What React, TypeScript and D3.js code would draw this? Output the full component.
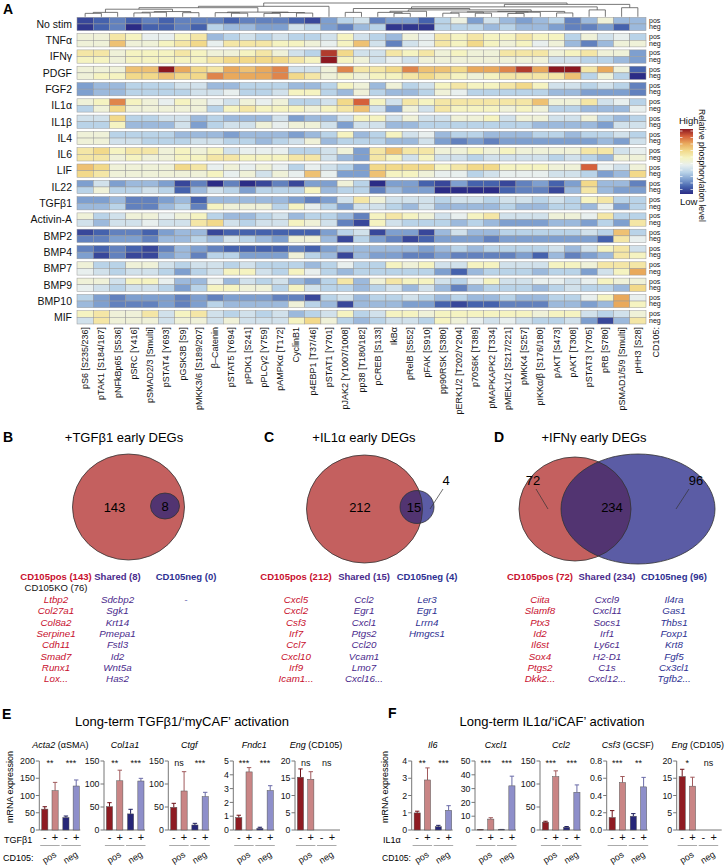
import React from "react";
import * as d3 from "d3";

const FONT = "'Liberation Sans', Arial, Helvetica, sans-serif";

// ---------- Panel A data ----------
const phosphoSites = ["pS6 [S235/236]","pTAK1 [S184/187]","pNFkBp65 [S536]","pSRC [Y416]","pSMAD2/3 [Smulti]","pSTAT4 [Y693]","pGSK3B [S9]","pMKK3/6 [S189/207]","β–Catenin","pSTAT5 [Y694]","pPDK1 [S241]","pPLCγ2 [Y759]","pAMPKα [T172]","CyclinB1","p4EBP1 [T37/46]","pSTAT1 [Y701]","pJAK2 [Y1007/1008]","pp38 [T180/182]","pCREB [S133]","IkBα","pRelB [S552]","pFAK [S910]","pp90RSK [S380]","pERK1/2 [T202/Y204]","p70S6K [T389]","pMAPKAPK2 [T334]","pMEK1/2 [S217/221]","pMKK4 [S257]","pIKKα/β [S176/180]","pAKT [S473]","pAKT [T308]","pSTAT3 [Y705]","pRB [S780]","pSMAD1/5/9 [Smulti]","pHH3 [S28]"];

const stimuli = ["No stim","TNFα","IFNγ","PDGF","FGF2","IL1α","IL1β","IL4","IL6","LIF","IL22","TGFβ1","Activin-A","BMP2","BMP4","BMP7","BMP9","BMP10","MIF"];

const noStimPos = [-3.5,-3,-2.5,-3,-2.5,-3,-2.5,-2.5,-2.5,-3,-2.5,-2.5,-2.5,-3,-3.5,-2,-1,-0.5,-2.5,-2,-2,-3,-1,0.3,-2,-0.5,-1.5,-2,-1.5,-1,-2.5,-1.5,0.5,-1.5,-1.5];
const noStimNeg = [-3.8,-3,-2.5,-4,-3,-3,-2.5,-3,-1,-1.5,-1.5,-2,-2,-0.5,-1,-2,-2.5,-1.5,-1,-3.8,-3.8,-3.8,-1,-1,-1,-1.5,-1,-1.5,-1.5,-2,-2.5,-2.5,-2,-3,-1.5];
const tnfPos = [0.5,0.5,1.5,1,0,0,1,1.5,-1.5,-1,-0.5,-1,-0.5,-1,-1,-0.5,1,-0.5,-1,-1.5,0.5,0,1.5,1,1.5,1,1,1.5,1,1,-1,0.5,-0.5,0,-1];
const tnfNeg = [0.5,0.5,2.5,0.5,0.5,1,1.5,2,0,1.5,1.5,1.5,1,1,0.5,0,1,2.5,-0.5,-2.5,-0.5,0,1.5,1,2,1,0.5,1,0,0.5,-1.5,-2.5,-1.5,0.5,0.5];
const ifnPos = [1.5,1.5,0.5,1,1,1,1.5,1,0.5,0.5,1,1.5,0.5,-0.5,-1,4.5,2,-0.5,-0.5,1.5,1,1.5,0.5,1,0.5,0.5,1.5,1.5,1.5,0.5,1,1.5,0.5,0.5,-2];
const ifnNeg = [1,1,0.5,1,1,1,1,1,1.5,2,2,2,2,1.5,1,5,1,0.5,-0.5,0,-0.5,0.5,0.5,0.5,0.5,0.5,0.5,0.5,0.5,-0.5,-0.5,-1,-1,-1.5,-2];
const pdgfPos = [0.5,0.5,0.5,2.5,2.5,5,3,2,1.5,3,2.5,3,3.5,-0.5,-0.5,0.5,3.5,1.5,1.5,2,3.5,2.5,2.5,2,3,3,3.5,4.5,3,5,5,1.5,3,0.5,-3];
const pdgfNeg = [0.5,1,1,2,2,2.5,2,2,3.5,3,3,3,3.5,2,1.5,0.5,1,0.5,1,1,1.5,2,1.5,1,0.5,1,1.5,1.5,1.5,1.5,2.5,-1,0.5,-1,-4];
const fgf2Pos = [-2,-1.5,-1.5,-1,-1,-1,-0.5,-0.5,-1.5,-1.5,-1,-1,-1,-1.5,-1.5,-1,1,0.5,-1.5,0.5,-1,-0.5,1,1.5,1,1,1.5,2,1,-0.5,-0.5,-1,-0.5,-1,-2.5];
const fgf2Neg = [-2,-1.5,-1.5,-1,-1,-1,-1,-0.5,-0.5,0,-1,-1,-0.5,1,1,-1,-1.5,0.5,-1,-1.5,-1.5,-1,0.5,0,-1,-1,-1,-1,-1,-1.5,-1.5,-2,-2,-2,-2.5];
const il1aPos = [0.5,1,3.5,1,0.5,0,1,0.5,0,-0.5,0.5,0,0.5,-1,-1,-0.5,2,4,1,-0.5,1.5,1,1.5,1.5,1.5,1.5,1.5,1.5,2.5,0.5,0.5,1.5,-0.5,0,-1];
const il1aNeg = [-1,0.5,2,0.5,0.5,0.5,0.5,0.5,-1,1,1.5,1,1,1,0.5,1,1.5,2.5,-0.5,-2,0.5,-0.5,1.5,1,1,1,0.5,1,0.5,-1,-1,-1.5,-1.5,-1.5,0];
const il1bPos = [-0.5,-0.5,2,-1,-1,-0.5,-0.5,-1.5,-1,-1.5,-1.5,-1.5,-0.5,-2,-1.5,-1.5,-0.5,1,1,-0.5,0.5,-0.5,-0.5,0.5,0.5,1,-0.5,0.5,0.5,-0.5,-0.5,0.5,-1,-1.5,-1];
const il1bNeg = [-1,-1,1,-1.5,-1.5,-1.5,-0.5,-2,-1,-0.5,-0.5,0.5,0,0.5,0.5,-0.5,-2,-0.5,-0.5,-1.5,-1.5,-1,-1,-1,-1,-1,-1,-1,-1.5,-1.5,-1.5,-1.5,-2,-0.5,-0.5];
const il4Pos = [0.5,0.5,-1,-1,-1,-1,-1.5,-1.5,-1.5,-2,-1.5,-1.5,-1.5,-2,-1.5,-1,1,-1.5,-1,1,-0.5,0,-1.5,-1,-1,-1.5,-1.5,-1.5,-1,-1,-1.5,-1,-1,-0.5,-1];
const il4Neg = [0.5,0.5,-0.5,-0.5,-1,-1,-1,-0.5,-0.5,-1,-1,-1.5,-1,-0.5,0.5,-1.5,-1,-1,-1,-1.5,-1.5,-0.5,-2,-2.5,-2,-2.5,-2,-2,-2,-2,-2,-2,-1.5,-2,-0.5];
const il6Pos = [1.5,2,1,1.5,1.5,0.5,1,0.5,1,-0.5,0,0,0,-1,-1,-0.5,0.5,-2,1.5,2.5,1.5,1.5,0.5,0.5,1,0.5,1,0.5,0.5,0.5,0.5,1.5,1.5,-0.5,0];
const il6Neg = [1.5,1.5,0.5,1,0.5,0.5,1,1,1.5,1.5,1,1,1,1.5,1.5,-0.5,-1.5,-2,1.5,1,-0.5,1,-0.5,-0.5,-1,-0.5,-0.5,-0.5,-0.5,-1,-0.5,-1,-1.5,0.5,0.5];
const lifPos = [2.5,2,0.5,0.5,0.5,0.5,2,1.5,0,0.5,0,0.5,0,-1,0,-0.5,-1,-2,2,2,2,2,1,1.5,2,2,1,1,1,0.5,0.5,4,0,-0.5,0.5];
const lifNeg = [2,1.5,0.5,0.5,0.5,0.5,0.5,0.5,1,0,0.5,-0.5,0.5,0,2.5,0,-2,-2,2.5,1,1,0.5,0,0,-1,-0.5,0,0,0,-0.5,-0.5,-1,-2,-1.5,2];
const il22Pos = [-2,-0.5,-2,-1.5,-1.5,-2,-3.5,-2.5,-4,-2.5,-4,-3.5,-2.5,-3.5,-2,-2,0.5,-1,-4,-2,-2,-3,-3.5,-2,-3,-3,-3.5,-2.5,-2,-3,-2,2,-1.5,-1.5,-2.5];
const il22Neg = [-1,0.5,-1,-1,-0.5,-1,-3,-1.5,-0.5,-1,-2,-1,-1,-1,1,-1.5,-1,-1,-2.5,-1.5,-2,-2,-4,-4,-4,-4,-3,-2.5,-2.5,-3.5,-1.5,1.5,-1.5,-2,-2];
const tgfPos = [-2,-2,-1.5,-2.5,-2.5,-2,-1.5,-3,-1.5,-1.5,-1.5,-1.5,-1.5,-2,-2.5,-2,-0.5,1.5,0.5,-0.5,-0.5,-0.5,-1,-0.5,-0.5,-1,-0.5,-0.5,-1,-0.5,-1,1,1.5,-1,-1];
const tgfNeg = [-1.5,-1.5,-1,-2.5,-2.5,-1.5,-1,-2.5,1,0.5,0.5,0.5,-1,1,0,-1,-2,-0.5,-0.5,-1,-1.5,-0.5,-1.5,-1.5,-1.5,-1.5,-1,-1.5,-1.5,-1,-1,-1.5,0,-2,-1];
const actPos = [0.5,-1,-0.5,0.5,0.5,0,0.5,1,-1,-1.5,-1.5,-1,-0.5,-1.5,-1,-1,-1.5,-2.5,1,1.5,1,0.5,-0.5,0,1,1.5,-0.5,-0.5,-0.5,0.5,0.5,0,1.5,-1,-1];
const actNeg = [-0.5,-1.5,-0.5,-0.5,0,-0.5,-0.5,1.5,2,-0.5,-1,-0.5,-0.5,1,0.5,-0.5,-2.5,-3.5,1,-0.5,-1,-1,-1,-1.5,-1,-1.5,-2,-2,-2,-1.5,-1.5,-2,-1,-2,1.5];
const bmp2Pos = [-3.5,-3,-2.5,-2.5,-3,-2,-1.5,-1.5,-3.5,-3,-3,-3,-3,-3,-3,-2,-1,-0.5,-3.5,-2,-2,-3.5,-1.5,-0.5,-1.5,-1.5,-1,-1,-1,-1,-1,-0.5,-1,2.5,-1];
const bmp2Neg = [-2.5,-2.5,-2,-2,-2.5,-1.5,-1.5,-1,-1.5,-0.5,-1,-1.5,-2,0.5,0.5,-1.5,-3.5,-1,-2,-2.5,-3.5,-3,-2,-2,-2,-2.5,-2,-2,-2,-2,-2,-2,-3,1.5,0];
const bmp4Pos = [-2.5,-3,-2.5,-3,-3.5,-2.5,-1.5,-2,-2.5,-3,-3,-3,-3,-2.5,-3,-2,-1.5,-1.5,-1.5,-1.5,-1.5,-2,-1.5,-1,-1.5,-1,-1,-1,-1,-0.5,-1.5,-0.5,1,1.5,-0.5];
const bmp4Neg = [-2,-3.5,-2.5,-3.5,-3.5,-2,-1.5,-2.5,-1,-1,-2,-2,-2,0.5,-1,-1.5,-3.5,-1.5,-2,-2,-2.5,-2.5,-2,-2.5,-2.5,-2.5,-2.5,-2,-3,-1.5,-2.5,-2,-1.5,1.5,1];
const bmp7Pos = [0.5,-1,-1,0.5,0.5,-0.5,-1,-0.5,-0.5,-1,-0.5,-1,-1,-1,-1.5,-1,0,-1,-1,1,0.5,1,-0.5,-0.5,1,1,-0.5,-0.5,-0.5,1,1,0.5,1.5,1.5,1.5];
const bmp7Neg = [0,-0.5,-1,-0.5,-0.5,-1,-2,-1,-0.5,1,1,-0.5,-1,1,0,-1,-1.5,-1,-1,-1,-1,-1,-2,-3,-1.5,-1,-1,-1,-1.5,-1,-1,-2,-0.5,1,3];
const bmp9Pos = [0.5,0.5,-0.5,1,1,0,-1.5,-1.5,0,-1.5,-0.5,-1,-0.5,-1.5,-2,-1,1.5,-1.5,0.5,1.5,1,1,-0.5,-1,0,1,-0.5,-0.5,0,0,-0.5,0,1,0.5,0.5];
const bmp9Neg = [0,-0.5,-1,-0.5,-0.5,-1,-2,-1,1,1,0.5,0.5,-1,1,-0.5,-1,-1,-1.5,-1,-0.5,-1.5,-0.5,-1.5,-2.5,-1.5,-1,-1,-1,-1.5,-1,-0.5,-1,-1,-1.5,2];
const bmp10Pos = [-1,-2,-2.5,-2,-2,-2,-2.5,-2,-2.5,-2,-2,-2,-2.5,-2.5,-3.5,-1,-0.5,-1.5,-1,-1,-0.5,-1,-1.5,-1,-1.5,-1.5,-1,-1.5,-1.5,-1,-1,0,1,3,0];
const bmp10Neg = [-1.5,-2,-2.5,-2.5,-2.5,-2,-2.5,-2,-1,-1.5,-1.5,-1.5,-1.5,0.5,-1,-1.5,-3.5,-1.5,-1.5,-1.5,-2,-2,-3,-3.5,-3,-3,-2.5,-2.5,-2.5,-1.5,-1.5,-2,-1.5,3,1];
const mifPos = [1,1.5,0.5,0.5,1.5,-0.5,1,1.5,-0.5,-1,-0.5,-1,-0.5,-1.5,-1,-0.5,1,-1,-0.5,1,1,0.5,1,1,1,1,1,1,0.5,1,1,-0.5,-1,-0.5,0.5];
const mifNeg = [-0.5,1.5,0.5,0.5,0.5,-0.5,0.5,0.5,-0.5,0.5,-0.5,-0.5,-0.5,1,2,0.5,-1,-1.5,-1,-0.5,-0.5,-1,1,0.5,0,-0.5,0,-0.5,-1,-1,-0.5,-2,-3.5,-1.5,1.5];

const heatPos = [noStimPos,tnfPos,ifnPos,pdgfPos,fgf2Pos,il1aPos,il1bPos,il4Pos,il6Pos,lifPos,il22Pos,tgfPos,actPos,bmp2Pos,bmp4Pos,bmp7Pos,bmp9Pos,bmp10Pos,mifPos];
const heatNeg = [noStimNeg,tnfNeg,ifnNeg,pdgfNeg,fgf2Neg,il1aNeg,il1bNeg,il4Neg,il6Neg,lifNeg,il22Neg,tgfNeg,actNeg,bmp2Neg,bmp4Neg,bmp7Neg,bmp9Neg,bmp10Neg,mifNeg];

const colorDomain = [-4,-3,-2,-1,0,1,2,3,4,5];
const colorRange = ["#2b2c86","#4562ad","#7e9fcf","#b9d3e8","#e8efee","#f5f3c1","#f2d98a","#e9a95c","#d5603a","#8c1820"];

// dendrogram: [left, right, mergeHeight], leaves are column indices
type DNode = number | [DNode, DNode, number];
const dendA: DNode = [[[0,1,2.5],2,3.2],[[[3,4,2.8],5,3.3],[6,7,3],3.8],5.5];
const dendB: DNode = [[8,[9,10,2.6],3.0],[[11,12,2.5],[13,14,2.7],3.1],3.4];
const dendR1: DNode = [[18,[19,20,2.5],3.2],21,4.0];
const dendR2: DNode = [[[22,23,2.6],[24,25,2.6],3.4],[[26,27,2.4],28,3.3],3.6];
const dendLeft: DNode = [[dendA,dendB,6.6],15,7.6];
const dendMid: DNode = [[[16,17,3.2],[dendR1,[dendR2,[29,30,2.8],3.9],5.0],6.0],[31,32,5.0],7.2];
const dendTree: DNode = [dendLeft,[dendMid,[33,34,6.6],9.0],10];

// ---------- Panels B-D data ----------
const vennTitles = ["+TGFβ1 early DEGs","+IL1α early DEGs","+IFNγ early DEGs"];
const bHeaders = ["CD105pos (143)","Shared (8)","CD105neg (0)"];
const cHeaders = ["CD105pos (212)","Shared (15)","CD105neg (4)"];
const dHeaders = ["CD105pos (72)","Shared (234)","CD105neg (96)"];
const bGenesPos = ["Ltbp2","Col27a1","Col8a2","Serpine1","Cdh11","Smad7","Runx1","Lox..."];
const bGenesShared = ["Sdcbp2","Sgk1","Krt14","Pmepa1","Fstl3","Id2","Wnt5a","Has2"];
const bGenesNeg = ["-"];
const cGenesPos = ["Cxcl5","Cxcl2","Csf3","Irf7","Ccl7","Cxcl10","Irf9","Icam1..."];
const cGenesShared = ["Ccl2","Egr1","Cxcl1","Ptgs2","Ccl20","Vcam1","Lmo7","Cxcl16..."];
const cGenesNeg = ["Ler3","Egr1","Lrrn4","Hmgcs1"];
const dGenesPos = ["Ciita","Slamf8","Ptx3","Id2","Il6st","Sox4","Ptgs2","Dkk2..."];
const dGenesShared = ["Cxcl9","Cxcl11","Socs1","Irf1","Ly6c1","H2-D1","C1s","Cxcl12..."];
const dGenesNeg = ["Il4ra","Gas1","Thbs1","Foxp1","Krt8","Fgf5","Cx3cl1","Tgfb2..."];
const vennCounts = [[143, 8, 0], [212, 15, 4], [72, 234, 96]];

// ---------- Panels E-F data ----------
const groups = ["pos", "neg"];
const treatments = ["-", "+"];
const acta2 = [60.5, 114, 36, 127.5];  const acta2Sem = [7, 24, 4.5, 17.5];
const col1a1 = [50.7, 107, 35, 106.5]; const col1a1Sem = [8.7, 23, 10, 5.8];
const ctgf = [49.3, 84.8, 10.9, 72.5]; const ctgfSem = [8.7, 42, 3.6, 9.4];
const fndc1 = [0.9, 4.21, 0.12, 2.86]; const fndc1Sem = [0.17, 0.31, 0.08, 0.35];
const engE = [15.3, 14.7, 0, 0];       const engESem = [2.4, 2.2, 0, 0];
const il6 = [0.99, 2.9, 0.19, 1.14];   const il6Sem = [0.1, 0.7, 0.08, 0.27];
const cxcl1 = [0.2, 7.9, 0.3, 32];     const cxcl1Sem = [0.1, 1.0, 0.1, 7];
const ccl2 = [17, 116, 6, 82];         const ccl2Sem = [2, 12.6, 1.5, 16];
const csf3 = [0.145, 0.55, 0.16, 0.5]; const csf3Sem = [0.08, 0.07, 0.03, 0.11];
const engF = [15.5, 12.7, 0, 0];       const engFSem = [2.1, 2.6, 0, 0];

const barColors = ["#8e1b22", "#c98585", "#262678", "#8e8fca"];
const errColors = ["#6e1218", "#a05a5c", "#1c1c5c", "#6a6ba8"];

function layoutDendro(node: DNode, xOf: (i: number) => number, yOf: (d: number) => number, segs: number[][]): { x: number; y: number } {
  if (typeof node === "number") return { x: xOf(node), y: yOf(0) };
  const l = layoutDendro(node[0], xOf, yOf, segs);
  const r = layoutDendro(node[1], xOf, yOf, segs);
  const y = yOf(node[2]);
  segs.push([l.x, l.y, l.x, y], [r.x, r.y, r.x, y], [l.x, y, r.x, y]);
  return { x: (l.x + r.x) / 2, y };
}

function MiniBar(props: { ax: number; yMax: number; ticks: number[]; fmt?: (v: number) => string; means: number[]; sems: number[]; sig: string[]; gene: string; suffix: string; ext?: number }) {
  const { ax, yMax, ticks, means, sems, sig, gene, suffix } = props;
  const fmt = props.fmt || ((v: number) => String(v));
  const y = d3.scaleLinear().domain([0, yMax]).range([830, 761]);
  const gx = d3.scaleBand<string>().domain(groups).range([ax + 2.4, ax + 40]).paddingInner(0.22);
  const tx = d3.scaleBand<string>().domain(treatments).range([0, gx.bandwidth()]).paddingInner(0.4);
  const bars: any[] = [];
  groups.forEach((g, gi) => {
    treatments.forEach((t, ti) => {
      const k = gi * 2 + ti;
      const bx = (gx(g) as number) + (tx(t) as number);
      const bw = tx.bandwidth();
      const m = means[k];
      const top = y(m);
      if (m > 0) {
        const et = y(m + sems[k]);
        bars.push(
          <g key={k}>
            <line x1={bx + bw / 2} x2={bx + bw / 2} y1={top} y2={et} stroke={errColors[k]} strokeWidth={1} />
            <line x1={bx + bw / 2 - 2.2} x2={bx + bw / 2 + 2.2} y1={et} y2={et} stroke={errColors[k]} strokeWidth={1} />
            <rect x={bx} y={top} width={bw} height={830 - top} fill={barColors[k]} stroke="#555" strokeWidth={0.5} />
          </g>
        );
      }
      bars.push(
        <text key={"t" + k} x={bx + bw / 2} y={841} fontSize={11} textAnchor="middle" fill="#111">{t}</text>
      );
    });
  });
  return (
    <g fontFamily={FONT}>
      <text x={ax + 21} y={748} fontSize={9} textAnchor="middle"><tspan fontStyle="italic">{gene}</tspan>{suffix}</text>
      <line x1={ax} x2={ax} y1={y(yMax)} y2={830} stroke="#777" strokeWidth={1} />
      <line x1={ax} x2={ax + (props.ext || 41)} y1={830} y2={830} stroke="#777" strokeWidth={1} />
      {ticks.map((t) => (
        <g key={t}>
          <line x1={ax - 3.5} x2={ax} y1={y(t)} y2={y(t)} stroke="#777" strokeWidth={1} />
          <text x={ax - 4.5} y={y(t) + 3.2} fontSize={8.8} textAnchor="end" fill="#111">{fmt(t)}</text>
        </g>
      ))}
      {bars}
      {groups.map((g, gi) => {
        const gc = (gx(g) as number) + gx.bandwidth() / 2;
        return (
          <g key={g}>
            <text x={gc} y={766} fontSize={9} textAnchor="middle" fill="#111">{sig[gi]}</text>
            <line x1={(gx(g) as number) - 1.5} x2={(gx(g) as number) + gx.bandwidth() + 1.5} y1={845.5} y2={845.5} stroke="#aaa" strokeWidth={1} />
            <text transform={`translate(${gc + 1},${860}) rotate(-32)`} fontSize={9} textAnchor="middle" fill="#111">{g}</text>
          </g>
        );
      })}
    </g>
  );
}

function Venn(props: { idx: number; cx0: number; label: string; headers: string[]; colX: number[]; genes: string[][]; extra?: boolean; children?: any }) {
  const { cx0, label, headers, colX, genes } = props;
  const hColors = ["#c8102e", "#4a2a8c", "#2e3192"];
  return (
    <g fontFamily={FONT}>
      <text x={label === "B" ? 3 : cx0 - 100} y={442} fontSize={14} fontWeight="bold">{label}</text>
      <text x={cx0} y={442} fontSize={13} textAnchor="middle">{vennTitles[props.idx]}</text>
      {props.children}
      {headers.map((h, i) => (
        <text key={h} x={colX[i]} y={580} fontSize={9.5} fontWeight="bold" textAnchor="middle" fill={hColors[i]}>{h}</text>
      ))}
      {props.extra && <text x={colX[0]} y={591} fontSize={9.5} textAnchor="middle" fill="#111">CD105KO (76)</text>}
      {genes.map((col, ci) =>
        col.map((g, gi) => (
          <text key={ci + "-" + gi} x={colX[ci]} y={603 + gi * 11.3} fontSize={9.8} fontStyle="italic" textAnchor="middle" fill={hColors[ci]}>{g}</text>
        ))
      )}
    </g>
  );
}

export default function App() {
  const color = d3.scaleLinear<string>().domain(colorDomain).range(colorRange).interpolate(d3.interpolateRgb).clamp(true);
  const x = d3.scaleBand<number>().domain(d3.range(phosphoSites.length)).range([77, 646]);
  const yRow = d3.scaleBand<string>().domain(stimuli).range([17.3, 324]).paddingInner(0.184);
  const half = yRow.bandwidth() / 2;
  const cw = x.bandwidth();

  const segs: number[][] = [];
  const yD = d3.scaleLinear().domain([0, 10]).range([16.8, 3]);
  layoutDendro(dendTree, (i) => (x(i) as number) + cw / 2, yD, segs);

  const dashYs = d3.range(131, 193, 6.5);

  const red = "#c4605f", blue = "#5b5ca5", purple = "#523471";

  return (
    <svg width={726} height={865} style={{ position: "absolute", left: 0, top: 0, background: "#fff" }} fontFamily={FONT}>
      <defs>
        <linearGradient id="lg" x1="0" y1="1" x2="0" y2="0">
          {colorDomain.map((d) => (
            <stop key={d} offset={(d + 4) / 9} stopColor={color(d)} />
          ))}
        </linearGradient>
        <clipPath id="clipCred"><ellipse cx={364.5} cy={509} rx={58} ry={54} /></clipPath>
        <clipPath id="clipDred"><ellipse cx={575} cy={509} rx={56} ry={52} /></clipPath>
      </defs>

      {/* Panel A */}
      <text x={3} y={14} fontSize={14} fontWeight="bold">A</text>
      <g>
        {segs.map((s, i) => (
          <line key={i} x1={s[0]} y1={s[1]} x2={s[2]} y2={s[3]} stroke="#555" strokeWidth={0.8} />
        ))}
      </g>
      {stimuli.map((s, ri) => {
        const top = yRow(s) as number;
        return (
          <g key={s}>
            <text x={72} y={top + half + 3.8} fontSize={10.5} textAnchor="end" fill="#111">{s}</text>
            {heatPos[ri].map((v, ci) => (
              <rect key={"p" + ci} x={x(ci)} y={top} width={cw} height={half} fill={color(v)} stroke="#999" strokeWidth={0.5} />
            ))}
            {heatNeg[ri].map((v, ci) => (
              <rect key={"n" + ci} x={x(ci)} y={top + half} width={cw} height={half} fill={color(v)} stroke="#999" strokeWidth={0.5} />
            ))}
            <text x={649} y={top + 5.6} fontSize={7} fill="#111">pos</text>
            <text x={649} y={top + 12} fontSize={7} fill="#111">neg</text>
          </g>
        );
      })}
      {phosphoSites.map((p, i) => (
        <text key={p + i} transform={`translate(${(x(i) as number) + cw / 2 + 3},${327}) rotate(-90)`} fontSize={9} textAnchor="end" fill="#111">{p}</text>
      ))}
      <text transform={`translate(${659},${327}) rotate(-90)`} fontSize={9} textAnchor="end" fill="#111">CD105:</text>

      {/* Legend */}
      <text x={679} y={124} fontSize={9.5} fill="#111">High</text>
      <rect x={680} y={129} width={13} height={65} fill="url(#lg)" />
      {dashYs.map((d) => (
        <g key={d}>
          <line x1={680} x2={682.5} y1={d} y2={d} stroke="#fff" strokeWidth={0.7} />
          <line x1={690.5} x2={693} y1={d} y2={d} stroke="#fff" strokeWidth={0.7} />
        </g>
      ))}
      <text x={680} y={205} fontSize={9.5} fill="#111">Low</text>
      <text transform={`translate(${699},${109}) rotate(90)`} fontSize={8.5} fill="#111">Relative phosphorylation level</text>

      {/* Panel B */}
      <Venn idx={0} cx0={124} label="B" headers={bHeaders} colX={[56, 117.5, 186]} genes={[bGenesPos, bGenesShared, bGenesNeg]} extra>
        <ellipse cx={128.5} cy={507} rx={56} ry={53} fill={red} stroke="#333" strokeWidth={0.8} />
        <ellipse cx={165} cy={506} rx={14.5} ry={13} fill={purple} stroke="#333" strokeWidth={0.8} />
        <text x={114.5} y={511.5} fontSize={13} textAnchor="middle">{vennCounts[0][0]}</text>
        <text x={165} y={511} fontSize={13} textAnchor="middle">{vennCounts[0][1]}</text>
      </Venn>

      {/* Panel C */}
      <Venn idx={1} cx0={364} label="C" headers={cHeaders} colX={[296, 364, 427]} genes={[cGenesPos, cGenesShared, cGenesNeg]}>
        <ellipse cx={364.5} cy={509} rx={58} ry={54} fill={red} />
        <ellipse cx={417} cy={507} rx={17} ry={16.5} fill={blue} />
        <ellipse cx={417} cy={507} rx={17} ry={16.5} fill={purple} clipPath="url(#clipCred)" />
        <ellipse cx={364.5} cy={509} rx={58} ry={54} fill="none" stroke="#333" strokeWidth={0.8} />
        <ellipse cx={417} cy={507} rx={17} ry={16.5} fill="none" stroke="#333" strokeWidth={0.8} />
        <text x={360} y={512} fontSize={13} textAnchor="middle">{vennCounts[1][0]}</text>
        <text x={414} y={512} fontSize={13} textAnchor="middle">{vennCounts[1][1]}</text>
        <text x={446} y={485} fontSize={13} textAnchor="middle">{vennCounts[1][2]}</text>
        <line x1={443} y1={489} x2={430} y2={509} stroke="#333" strokeWidth={0.7} />
      </Venn>

      {/* Panel D */}
      <Venn idx={2} cx0={594} label="D" headers={dHeaders} colX={[540, 607, 674]} genes={[dGenesPos, dGenesShared, dGenesNeg]}>
        <ellipse cx={575} cy={509} rx={56} ry={52} fill={red} />
        <ellipse cx={638} cy={509} rx={77} ry={55} fill={blue} />
        <ellipse cx={638} cy={509} rx={77} ry={55} fill={purple} clipPath="url(#clipDred)" />
        <ellipse cx={575} cy={509} rx={56} ry={52} fill="none" stroke="#333" strokeWidth={0.8} />
        <ellipse cx={638} cy={509} rx={77} ry={55} fill="none" stroke="#333" strokeWidth={0.8} />
        <text x={533} y={485} fontSize={13} textAnchor="middle">{vennCounts[2][0]}</text>
        <line x1={536} y1={489} x2={548} y2={509} stroke="#333" strokeWidth={0.7} />
        <text x={612} y={512} fontSize={13} textAnchor="middle">{vennCounts[2][1]}</text>
        <text x={696} y={485} fontSize={13} textAnchor="middle">{vennCounts[2][2]}</text>
        <line x1={689} y1={489} x2={676} y2={509} stroke="#333" strokeWidth={0.7} />
      </Venn>

      {/* Panel E */}
      <g fontFamily={FONT}>
        <text x={2} y={719} fontSize={14} fontWeight="bold">E</text>
        <text x={182} y={726} fontSize={13} textAnchor="middle">Long-term TGFβ1/‘myCAF’ activation</text>
        <text transform={`translate(13,787) rotate(-90)`} fontSize={9} textAnchor="middle">mRNA expression</text>
        <text x={4} y={843} fontSize={9}>TGFβ1</text>
        <text x={3} y={861} fontSize={9}>CD105:</text>
      </g>
      <MiniBar ax={39.3} yMax={200} ticks={[0, 50, 100, 150, 200]} means={acta2} sems={acta2Sem} sig={["**", "***"]} gene="Acta2" suffix=" (αSMA)" />
      <MiniBar ax={104} yMax={150} ticks={[0, 50, 100, 150]} means={col1a1} sems={col1a1Sem} sig={["**", "***"]} gene="Col1a1" suffix="" />
      <MiniBar ax={168.3} yMax={150} ticks={[0, 50, 100, 150]} means={ctgf} sems={ctgfSem} sig={["ns", "***"]} gene="Ctgf" suffix="" />
      <MiniBar ax={233.3} yMax={5} ticks={[0, 1, 2, 3, 4, 5]} means={fndc1} sems={fndc1Sem} sig={["***", "***"]} gene="Fndc1" suffix="" />
      <MiniBar ax={295} yMax={20} ticks={[0, 5, 10, 15, 20]} means={engE} sems={engESem} sig={["ns", "ns"]} gene="Eng" suffix=" (CD105)" ext={45} />

      {/* Panel F */}
      <g fontFamily={FONT}>
        <text x={388} y={718} fontSize={14} fontWeight="bold">F</text>
        <text x={552} y={726} fontSize={13} textAnchor="middle">Long-term IL1α/‘iCAF’ activation</text>
        <text transform={`translate(388,787) rotate(-90)`} fontSize={9} textAnchor="middle">mRNA expression</text>
        <text x={383} y={843} fontSize={9}>IL1α</text>
        <text x={382} y={861} fontSize={8.5}>CD105:</text>
      </g>
      <MiniBar ax={411.7} yMax={4} ticks={[0, 1, 2, 3, 4]} means={il6} sems={il6Sem} sig={["**", "***"]} gene="Il6" suffix="" />
      <MiniBar ax={475} yMax={50} ticks={[0, 10, 20, 30, 40, 50]} means={cxcl1} sems={cxcl1Sem} sig={["***", "***"]} gene="Cxcl1" suffix="" />
      <MiniBar ax={540} yMax={150} ticks={[0, 50, 100, 150]} means={ccl2} sems={ccl2Sem} sig={["***", "***"]} gene="Ccl2" suffix="" />
      <MiniBar ax={606.7} yMax={0.8} ticks={[0, 0.2, 0.4, 0.6, 0.8]} fmt={(v) => v.toFixed(1)} means={csf3} sems={csf3Sem} sig={["***", "**"]} gene="Csf3" suffix=" (GCSF)" />
      <MiniBar ax={676.7} yMax={20} ticks={[0, 5, 10, 15, 20]} means={engF} sems={engFSem} sig={["*", "ns"]} gene="Eng" suffix=" (CD105)" ext={45} />
    </svg>
  );
}
